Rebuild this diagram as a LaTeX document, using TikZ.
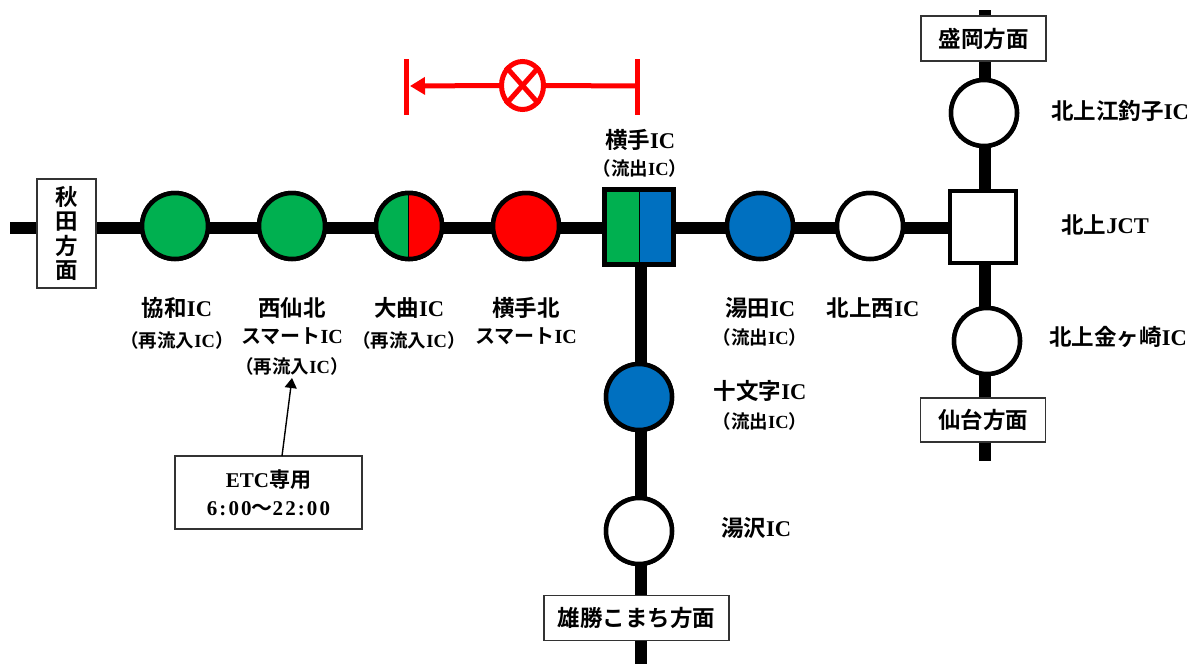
\documentclass[tikz,border=0pt]{standalone}
\usepackage{fontspec}
\setmainfont{Liberation Serif}[BoldFont=Liberation Serif Bold]
\newfontfamily\jpf{Noto Sans CJK JP}[BoldFont=Noto Sans CJK JP Bold]
\usetikzlibrary{arrows.meta,calc,shapes.geometric}
\definecolor{icg}{RGB}{0,176,80}
\definecolor{icb}{RGB}{0,112,192}
\newcommand{\IC}{{\rmfamily IC}}
\tikzset{
 x=1pt,y=-1pt,
 road/.style={line width=12pt,black},
 ic/.style={circle,draw=black,line width=4.5pt,minimum size=66pt,inner sep=0pt,fill=#1},
 ic/.default=white,
 sqbox/.style={rectangle,draw=black,line width=4pt,minimum width=66pt,minimum height=72pt,inner sep=0pt,fill=#1},
 sqbox/.default=white,
 big/.style={font=\fontsize{22.5}{24.5}\selectfont\bfseries\jpf},
 small/.style={font=\fontsize{18.5}{21}\selectfont\bfseries\jpf},
 smart/.style={font=\fontsize{20}{24}\selectfont\bfseries\jpf},
 dirbox/.style={rectangle,draw=black!80,line width=1.4pt,fill=white,inner sep=0pt,align=center,big},
 txt/.style={inner sep=0pt,align=center,big},
 txts/.style={inner sep=0pt,align=center,small},
 redl/.style={draw=red,line width=5pt},
}
\begin{document}
\begin{tikzpicture}
\useasboundingbox (0,0) rectangle (1200,664);
% road ends
\coordinate (wend) at (10,228);
\coordinate (nend) at (985,10);
\coordinate (send) at (985,461);
\coordinate (bend) at (641,664);
% nodes placed first so that the roads can refer to them
\node[sqbox] (yokote) at (639,227) {};
\node[sqbox] (jct) at (982.5,227) {};
\node[ic=icg] (kyowa) at (175,226) {};
\node[ic=icg] (senboku) at (292,226) {};
\node[ic] (omagari) at (409,226) {};
\node[ic=red] (ykita) at (526,226) {};
\node[ic=icb] (yuda) at (760,226) {};
\node[ic] (knishi) at (870,226) {};
\node[ic] (esashi) at (984,113) {};
\node[ic] (kanegasaki) at (987,341) {};
\node[ic=icb] (jumonji) at (639,397) {};
\node[ic] (yuzawa) at (639,531) {};
% roads
\draw[road] (wend) -- (kyowa.center |- wend);
\draw[road] (kyowa.center |- wend) -- (senboku.center |- wend);
\draw[road] (senboku.center |- wend) -- (omagari.center |- wend);
\draw[road] (omagari.center |- wend) -- (ykita.center |- wend);
\draw[road] (ykita.center |- wend) -- (yokote.center |- wend);
\draw[road] (yokote.center |- wend) -- (yuda.center |- wend);
\draw[road] (yuda.center |- wend) -- (knishi.center |- wend);
\draw[road] (knishi.center |- wend) -- (jct.center |- wend);
\draw[road] (nend) -- (nend |- esashi.center);
\draw[road] (nend |- esashi.center) -- (nend |- jct.center);
\draw[road] (nend |- jct.center) -- (nend |- kanegasaki.center);
\draw[road] (nend |- kanegasaki.center) -- (send);
\draw[road] (bend |- yokote.center) -- (bend |- jumonji.center);
\draw[road] (bend |- jumonji.center) -- (bend |- yuzawa.center);
\draw[road] (bend |- yuzawa.center) -- (bend);
% nodes above the roads
\node[sqbox] at (yokote) {};
\fill[icg] (607,192) rectangle (639.5,262);
\fill[icb] (639.5,192) rectangle (671,262);
\draw[black,line width=1pt] (639.5,192) -- (639.5,262);
\draw[black,line width=4pt] (yokote.south west) rectangle (yokote.north east);
\node[sqbox] at (jct) {};
\node[ic=icg] at (kyowa) {};
\node[ic=icg] at (senboku) {};
\node[ic] at (omagari) {};
\fill[icg] (408,193) arc[start angle=-90,end angle=-270,radius=33] -- cycle;
\fill[red] (408,193) arc[start angle=-90,end angle=90,radius=33] -- cycle;
\draw[black,line width=1pt] (408,193) -- (408,259);
\draw[black,line width=4.5pt] (omagari) circle[radius=33];
\node[ic=red] at (ykita) {};
\node[ic=icb] at (yuda) {};
\node[ic] at (knishi) {};
\node[ic] at (esashi) {};
\node[ic] at (kanegasaki) {};
\node[ic=icb] at (jumonji) {};
\node[ic] at (yuzawa) {};
% direction boxes
\node[dirbox,minimum width=59pt,minimum height=109pt] (akita) at (66.5,233.5) {秋\\田\\方\\面};
\node[dirbox,minimum width=125pt,minimum height=45pt] (morioka) at (983.5,38.5) {盛岡方面};
\node[dirbox,minimum width=125pt,minimum height=44pt] (sendai) at (983,420) {仙台方面};
\node[dirbox,minimum width=185pt,minimum height=45pt] (ogachi) at (636.5,618) {雄勝こまち方面};
\node[dirbox,minimum width=187pt,minimum height=73pt,font=\fontsize{21}{28}\selectfont\bfseries\rmfamily] (etc) at (268.5,492.5) {ETC{\jpf 専用}\\\addfontfeature{LetterSpace=10}6:00{\jpf ～}22:00};
% labels
\node[txt] (t1) at (177,308) {協和\IC};
\node[txts] (t1b) at (177,340) {（再流入\IC）};
\node[txt] (t2) at (292,308) {西仙北};
\node[txt,smart] (t2b) at (292,336) {スマート\IC};
\node[txts] (t2c) at (292,366) {（再流入\IC）};
\node[txt] (t3) at (409,308) {大曲\IC};
\node[txts] (t3b) at (409,340) {（再流入\IC）};
\node[txt] (t4) at (526,308) {横手北};
\node[txt,smart] (t4b) at (526,336) {スマート\IC};
\node[txt] (t5) at (640,140) {横手\IC};
\node[txts] (t5b) at (640,168) {（流出\IC）};
\node[txt] (t6) at (760,308) {湯田\IC};
\node[txts] (t6b) at (760,337) {（流出\IC）};
\node[txt] (t7) at (873,308) {北上西\IC};
\node[txt] (t8) at (760,391) {十文字\IC};
\node[txts] (t8b) at (760,421) {（流出\IC）};
\node[txt] (t9) at (756,528) {湯沢\IC};
\node[txt] (t10) at (1120,111) {北上江釣子\IC};
\node[txt] (t11) at (1105,225) {北上{\rmfamily JCT}};
\node[txt] (t12) at (1118,337) {北上金ヶ崎\IC};
% ETC arrow
\coordinate (etctop) at (282,456);
\coordinate (etctip) at (292,378);
\draw[-{Triangle[length=10pt,width=12pt]},line width=1.4pt] (etctop) -- (etctip);
% red mark
\coordinate (ral) at (406,59);
\coordinate (rab) at (406,115);
\coordinate (rbl) at (637,59);
\coordinate (rbb) at (637,115);
\coordinate (rb) at (637,86);
\coordinate (ra) at (410,86);
\draw[redl] (ral) -- (rab);
\draw[redl] (rbl) -- (rbb);
\node[ellipse,draw=red,line width=5pt,minimum width=42pt,minimum height=48pt,inner sep=0pt] (stop) at (522.5,85.5) {};
\draw[redl] (stop.north west) -- (stop.south east);
\draw[redl] (stop.north east) -- (stop.south west);
\draw[redl] (rb) -- (stop.east);
\draw[redl,-{Triangle[length=15pt,width=17pt]}] (stop.west) -- (ra);
\end{tikzpicture}
\end{document}
